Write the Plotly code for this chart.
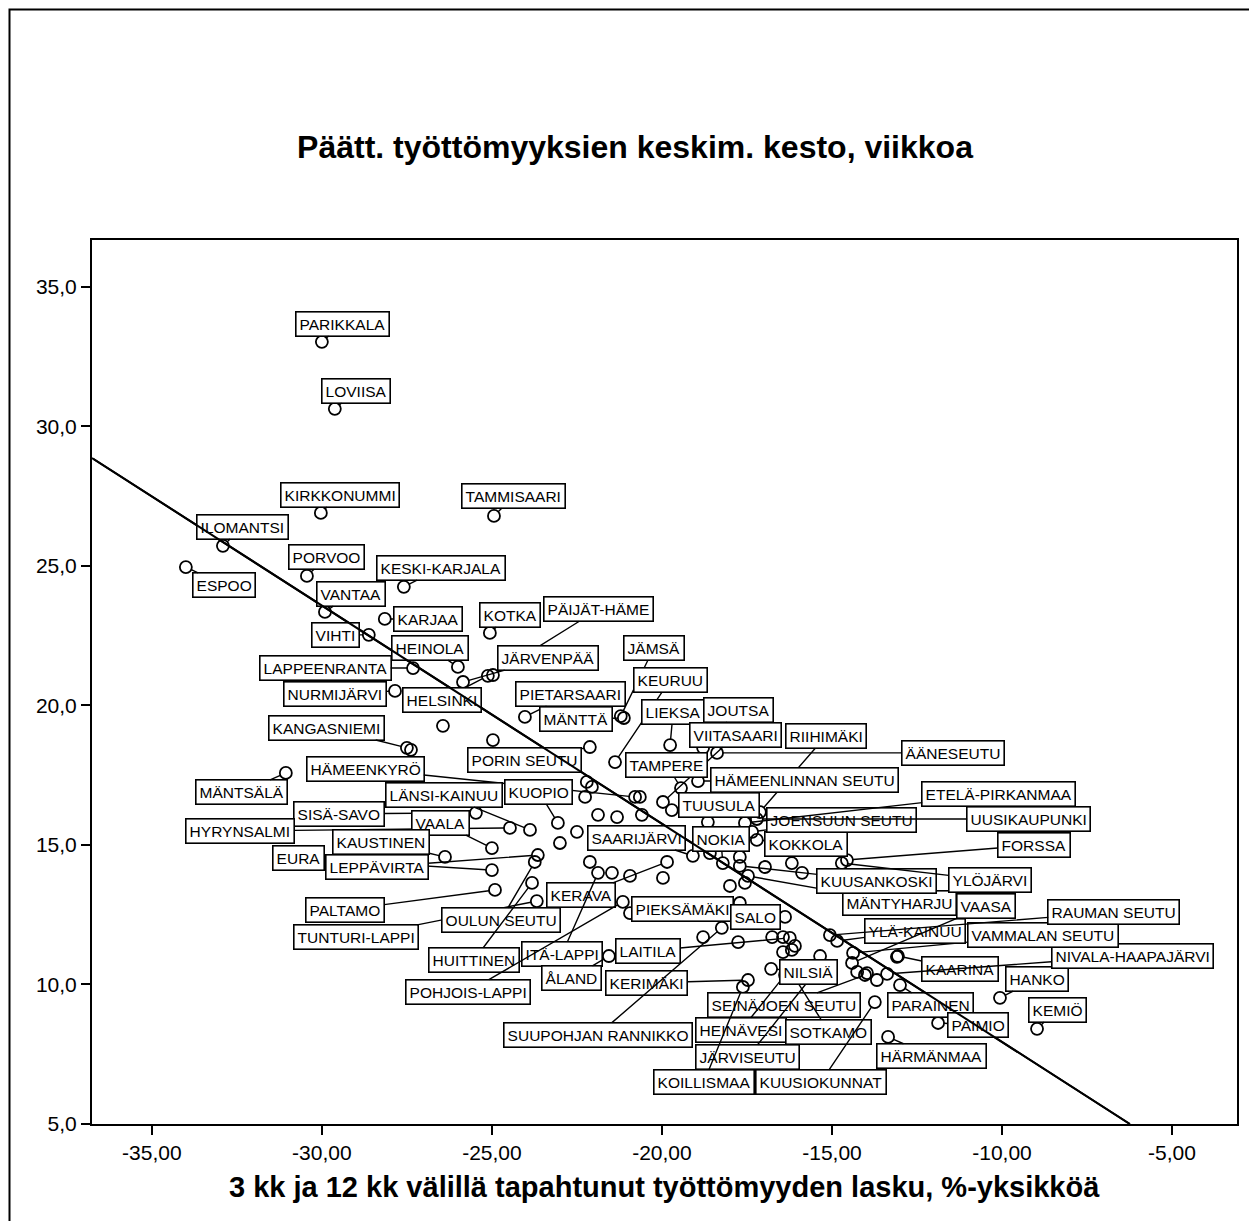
import plotly.graph_objects as go

# ------------------ Data ------------------
nimet = [
    "PARIKKALA", "LOVIISA", "KIRKKONUMMI", "TAMMISAARI", "ILOMANTSI", "ESPOO",
    "PORVOO", "KESKI-KARJALA", "VANTAA", "KARJAA", "VIHTI", "KOTKA",
    "PÄIJÄT-HÄME", "HEINOLA", "LAPPEENRANTA", "JÄRVENPÄÄ", "HELSINKI",
    "NURMIJÄRVI", "JÄMSÄ", "KEURUU", "PIETARSAARI", "MÄNTTÄ", "LIEKSA",
    "JOUTSA", "KANGASNIEMI", "VIITASAARI", "RIIHIMÄKI", "ÄÄNESEUTU",
    "PORIN SEUTU", "TAMPERE", "HÄMEENKYRÖ", "HÄMEENLINNAN SEUTU", "MÄNTSÄLÄ",
    "LÄNSI-KAINUU", "KUOPIO", "SISÄ-SAVO", "HYRYNSALMI", "VAALA", "KAUSTINEN",
    "EURA", "LEPPÄVIRTA", "PALTAMO", "TUNTURI-LAPPI", "OULUN SEUTU", "KERAVA",
    "HUITTINEN", "ITÄ-LAPPI", "POHJOIS-LAPPI", "ÅLAND", "PIEKSÄMÄKI",
    "LAITILA", "KERIMÄKI", "SUUPOHJAN RANNIKKO", "SALO", "SEINÄJOEN SEUTU",
    "HEINÄVESI", "SOTKAMO", "JÄRVISEUTU", "KOILLISMAA", "KUUSIOKUNNAT",
    "HÄRMÄNMAA", "PARAINEN", "PAIMIO", "HANKO", "KEMIÖ", "KAARINA",
    "NIVALA-HAAPAJÄRVI", "VAMMALAN SEUTU", "YLÄ-KAINUU", "RAUMAN SEUTU",
    "VAASA", "MÄNTYHARJU", "KUUSANKOSKI", "YLÖJÄRVI", "FORSSA", "KOKKOLA",
    "JOENSUUN SEUTU", "UUSIKAUPUNKI", "ETELÄ-PIRKANMAA", "TUUSULA", "NOKIA",
    "SAARIJÄRVI", "NILSIÄ",
]
lasku = [
    -30.00, -29.62, -30.03, -24.94, -32.91, -34.00,
    -30.44, -27.59, -29.91, -28.15, -28.62, -25.06,
    -24.97, -26.00, -27.32, -25.85, -25.12,
    -27.85, -21.21, -21.38, -24.03, -21.12, -19.76,
    -18.79, -27.50, -19.97, -17.12, -18.38,
    -22.12, -19.44, -20.79, -18.94, -31.06,
    -23.88, -23.06, -25.47, -24.47, -25.00, -26.38,
    -25.00, -23.65, -24.91, -23.68, -23.74, -19.85,
    -23.82, -21.88, -21.15, -21.56, -20.94,
    -16.24, -17.47, -18.24, -16.38, -14.03,
    -16.38, -16.09, -15.56, -17.62, -13.74,
    -13.35, -13.00, -11.88, -10.06, -8.97, -13.06,
    -13.38, -14.38, -14.85, -15.06,
    -14.41, -17.47, -17.71, -14.71, -14.56, -17.21,
    -17.35, -17.21, -17.56, -19.71, -18.21,
    -19.09, -16.79,
]
kesto = [
    33.03, 30.63, 26.90, 26.79, 25.72, 24.96,
    24.64, 24.25, 23.35, 23.10, 22.53, 22.60,
    21.09, 21.38, 21.34, 20.84, 21.06,
    20.52, 19.62, 17.97, 19.59, 19.55, 18.58,
    18.48, 18.48, 16.54, 16.18, 18.30,
    18.51, 17.04, 16.72, 17.29, 17.58,
    15.54, 15.79, 16.15, 15.61, 14.89, 14.57,
    14.10, 14.64, 13.39, 12.99, 14.39, 14.39,
    13.64, 14.00, 12.96, 11.02, 12.56,
    11.67, 10.16, 12.03, 12.42, 10.34,
    10.34, 10.23, 10.34, 9.91, 9.37,
    8.12, 9.98, 8.62, 9.52, 8.41, 11.02,
    10.38, 11.13, 11.56, 11.77,
    10.77, 13.89, 14.25, 14.35, 14.46, 15.18,
    15.47, 15.93, 15.79, 16.25, 14.35,
    14.61, 10.56,
]

# points without a label
muut_lasku = [
    -27.38, -26.44, -24.97, -22.21, -22.06, -22.26, -20.65, -21.88, -21.32,
    -20.59, -22.50, -23.00, -22.12, -21.47, -20.94, -19.97, -18.59, -17.71,
    -16.97, -16.18, -15.88, -18.00, -17.56, -17.71, -18.79, -17.76, -16.76,
    -16.44, -16.09, -16.44, -16.18, -15.35, -14.26, -13.97, -13.68, -13.09,
    -18.65,
]
muut_kesto = [
    18.41, 19.27, 18.76, 17.26, 17.08, 16.72, 16.72, 16.08, 16.00,
    16.08, 15.47, 15.07, 14.39, 14.00, 13.89, 13.82, 14.71, 14.57,
    14.21, 14.35, 14.00, 13.53, 13.64, 12.92, 11.70, 11.52, 11.70,
    11.70, 11.38, 11.16, 11.24, 11.02, 10.45, 10.41, 10.16, 10.99,
    15.82,
]

# linear fit (kesto = vakio + kulmakerroin * lasku)
sovite_vakio = 0.12
sovite_kulmakerroin = -0.782

x_tickvals = [-35, -30, -25, -20, -15, -10, -5]
x_ticktext = ["-35,00", "-30,00", "-25,00", "-20,00", "-15,00", "-10,00", "-5,00"]
y_tickvals = [5, 10, 15, 20, 25, 30, 35]
y_ticktext = ["5,0", "10,0", "15,0", "20,0", "25,0", "30,0", "35,0"]

# label box placement, pixels relative to the point
siirrot = {
    "PARIKKALA": (21, -18), "LOVIISA": (21, -18), "KIRKKONUMMI": (19, -18),
    "TAMMISAARI": (20, -20), "ILOMANTSI": (20, -19), "ESPOO": (38, 18),
    "PORVOO": (20, -19), "KESKI-KARJALA": (37, -19), "VANTAA": (26, -18),
    "KARJAA": (43, 0), "VIHTI": (-33, 0), "KOTKA": (20, -18),
    "PÄIJÄT-HÄME": (106, -66), "HEINOLA": (-28, -19), "LAPPEENRANTA": (-88, 0),
    "JÄRVENPÄÄ": (85, -24), "HELSINKI": (-46, 24), "NURMIJÄRVI": (-60, 3),
    "JÄMSÄ": (33, -68), "KEURUU": (55, -82), "PIETARSAARI": (46, -23),
    "MÄNTTÄ": (-48, 1), "LIEKSA": (3, -33), "JOUTSA": (35, -38),
    "KANGASNIEMI": (-80, -20), "VIITASAARI": (73, -67), "RIIHIMÄKI": (66, -76),
    "ÄÄNESEUTU": (236, 0), "PORIN SEUTU": (-65, 13), "TAMPERE": (-14, -23),
    "HÄMEENKYRÖ": (-270, -28), "HÄMEENLINNAN SEUTU": (106, -1),
    "MÄNTSÄLÄ": (-44, 19), "LÄNSI-KAINUU": (-86, -35), "KUOPIO": (-19, -31),
    "SISÄ-SAVO": (-137, 1), "HYRYNSALMI": (-270, 3), "VAALA": (-51, -25),
    "KAUSTINEN": (-64, -15), "EURA": (-193, -12), "LEPPÄVIRTA": (-161, 12),
    "PALTAMO": (-150, 20), "TUNTURI-LAPPI": (-181, 36), "OULUN SEUTU": (-34, 58),
    "KERAVA": (-86, 33), "HUITTINEN": (-58, 77), "ITÄ-LAPPI": (-36, 81),
    "POHJOIS-LAPPI": (-155, 90), "ÅLAND": (-37, 22), "PIEKSÄMÄKI": (53, -4),
    "LAITILA": (-142, 13), "KERIMÄKI": (-101, 3), "SUUPOHJAN RANNIKKO": (-124, 107),
    "SALO": (-30, 0), "SEINÄJOEN SEUTU": (-81, 30), "HEINÄVESI": (-44, 55),
    "SOTKAMO": (34, 54), "JÄRVISEUTU": (-65, 82), "KOILLISMAA": (-39, 95),
    "KUUSIOKUNNAT": (-54, 80), "HÄRMÄNMAA": (43, 19), "PARAINEN": (30, 20),
    "PAIMIO": (40, 2), "HANKO": (37, -19), "KEMIÖ": (20, -19), "KAARINA": (62, 13),
    "NIVALA-HAAPAJÄRVI": (245, -18), "VAMMALAN SEUTU": (190, -18),
    "YLÄ-KAINUU": (78, -10), "RAUMAN SEUTU": (284, -23), "VAASA": (134, -57),
    "MÄNTYHARJU": (152, 27), "KUUSANKOSKI": (137, 15), "YLÖJÄRVI": (148, 17),
    "FORSSA": (187, -15), "KOKKOLA": (49, 4), "JOENSUUN SEUTU": (89, -12),
    "UUSIKAUPUNKI": (272, 0), "ETELÄ-PIRKANMAA": (254, -29), "TUUSULA": (47, -5),
    "NOKIA": (-2, -24), "SAARIJÄRVI": (-56, -18), "NILSIÄ": (37, 3),
}

FONTTI = "Arial, 'Liberation Sans', sans-serif"
x_alue = [-36.76, -3.09]
y_alue = [5.0, 36.68]

# the page body adds an 8 px margin, so the figure is made 8 px smaller
LEVEYS, KORKEUS = 1249, 1213
VASEN, YLA, ALA = 84, 232, 97
PLOT_W = LEVEYS - VASEN - 20
PLOT_H = KORKEUS - YLA - ALA

fig = go.Figure()

# ------------------ Points ------------------
fig.add_trace(go.Scatter(
    x=muut_lasku + lasku,
    y=muut_kesto + kesto,
    mode="markers",
    marker=dict(symbol="circle-open", size=12, color="black", line=dict(width=1.8)),
    hoverinfo="skip",
    showlegend=False,
))

# ------------------ Fit line ------------------
x_alku = x_alue[0]
y_alku = sovite_vakio + sovite_kulmakerroin * x_alku
x_loppu = (y_alue[0] - sovite_vakio) / sovite_kulmakerroin
fig.add_trace(go.Scatter(
    x=[x_alku, x_loppu], y=[y_alku, y_alue[0]],
    mode="lines", line=dict(color="black", width=2),
    hoverinfo="skip", showlegend=False,
))

# ------------------ Labels ------------------
annotations = []
for nimi, xi, yi in zip(nimet, lasku, kesto):
    dx, dy = siirrot[nimi]
    annotations.append(dict(
        x=xi, y=yi, xref="x", yref="y", text=nimi,
        showarrow=True, arrowhead=0, arrowwidth=1.4, arrowcolor="black",
        ax=dx, ay=dy, standoff=6,
        bgcolor="white", bordercolor="black", borderwidth=1.6, borderpad=3,
        font=dict(family=FONTTI, size=15.5, color="black"),
    ))

# fit line again on top of the label boxes
annotations.append(dict(
    x=x_loppu, y=y_alue[0], ax=x_alku, ay=y_alku,
    xref="x", yref="y", axref="x", ayref="y", text="",
    showarrow=True, arrowhead=0, arrowwidth=2, arrowcolor="black", standoff=0,
))

# x axis title
annotations.append(dict(
    x=0.5, y=-0.0713, xref="paper", yref="paper",
    text="<b>3 kk ja 12 kk välillä tapahtunut työttömyyden lasku, %-yksikköä</b>",
    showarrow=False, xanchor="center", yanchor="middle",
    font=dict(family=FONTTI, size=29, color="black"),
))

fig.update_layout(
    width=LEVEYS, height=KORKEUS,
    margin=dict(l=VASEN, r=20, t=YLA, b=ALA),
    paper_bgcolor="white", plot_bgcolor="white",
    title=dict(
        text="<b>Päätt. työttömyyksien keskim. kesto, viikkoa</b>",
        x=627 / LEVEYS, y=1 - 139 / KORKEUS, xanchor="center", yanchor="middle",
        font=dict(family=FONTTI, size=32, color="black"),
    ),
    xaxis=dict(
        range=x_alue, showgrid=False, zeroline=False,
        showline=True, mirror=True, linecolor="black", linewidth=2,
        ticks="outside", ticklen=9, tickwidth=2, tickcolor="black",
        tickvals=x_tickvals, ticktext=x_ticktext,
        tickfont=dict(family=FONTTI, size=21, color="black"),
    ),
    yaxis=dict(
        range=y_alue, showgrid=False, zeroline=False,
        showline=True, mirror=True, linecolor="black", linewidth=2,
        ticks="outside", ticklen=9, tickwidth=2, tickcolor="black",
        tickvals=y_tickvals, ticktext=y_ticktext,
        tickfont=dict(family=FONTTI, size=21, color="black"),
    ),
    annotations=annotations,
    # outer frame of the chart (kept just inside the figure)
    shapes=[dict(
        type="rect", xref="paper", yref="paper",
        x0=(1.5 - VASEN) / PLOT_W, x1=(LEVEYS - 1.5 - VASEN) / PLOT_W,
        y0=-(ALA + 20) / PLOT_H, y1=(PLOT_H + YLA - 1.5) / PLOT_H,
        line=dict(color="black", width=2), fillcolor="rgba(0,0,0,0)",
    )],
)

fig.write_html("out.html")
